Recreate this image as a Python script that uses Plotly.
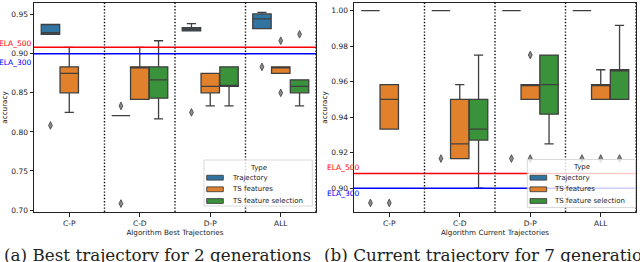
import plotly.graph_objects as go

# ---------------- data ----------------
categories = ["C-P", "C-D", "D-P", "ALL"]
hue_names = ["Trajectory", "TS features", "TS feature selection"]
hue_colors = ["#3274a1", "#e1812c", "#3a923a"]

ela_500 = 0.9083
ela_300 = 0.90

# (a) Best trajectory, 2 generations
best_traj_q1 = [0.925, 0.8208, 0.9292, 0.9323]
best_traj_med = [0.9271, 0.8208, 0.9313, 0.9448]
best_traj_q3 = [0.9375, 0.8208, 0.9333, 0.9510]
best_traj_lo = [0.925, 0.8208, 0.9292, 0.9323]
best_traj_hi = [0.9375, 0.8208, 0.9385, 0.9531]
best_traj_out = [[0.8083], [0.8333, 0.7083], [0.825], [0.8833]]

best_feat_q1 = [0.85, 0.8417, 0.85, 0.875]
best_feat_med = [0.875, 0.8833, 0.8583, 0.8833]
best_feat_q3 = [0.8833, 0.8833, 0.875, 0.8833]
best_feat_lo = [0.825, 0.8417, 0.8333, 0.875]
best_feat_hi = [0.9083, 0.9083, 0.875, 0.8833]
best_feat_out = [[], [], [], [0.9167, 0.85]]

best_sel_q1 = [None, 0.8432, 0.8583, 0.85]
best_sel_med = [None, 0.8667, 0.8583, 0.8583]
best_sel_q3 = [None, 0.8833, 0.8833, 0.8667]
best_sel_lo = [None, 0.8167, 0.8333, 0.8333]
best_sel_hi = [None, 0.9167, 0.8833, 0.8667]
best_sel_out = [[], [], [], [0.925]]

# (b) Current trajectory, 7 generations
cur_traj_q1 = [1.0, 1.0, 1.0, 1.0]
cur_traj_med = [1.0, 1.0, 1.0, 1.0]
cur_traj_q3 = [1.0, 1.0, 1.0, 1.0]
cur_traj_lo = [1.0, 1.0, 1.0, 1.0]
cur_traj_hi = [1.0, 1.0, 1.0, 1.0]
cur_traj_out = [[0.8917], [0.9167], [0.9167], [0.9167]]

cur_feat_q1 = [0.9333, 0.9167, 0.95, 0.95]
cur_feat_med = [0.95, 0.925, 0.9583, 0.9583]
cur_feat_q3 = [0.9583, 0.95, 0.9583, 0.9583]
cur_feat_lo = [0.9333, 0.9167, 0.95, 0.95]
cur_feat_hi = [0.9583, 0.9583, 0.9583, 0.9667]
cur_feat_out = [[0.8917], [], [0.975, 0.9167], [0.9167]]

cur_sel_q1 = [None, 0.9271, 0.9417, 0.95]
cur_sel_med = [None, 0.9333, 0.9583, 0.9667]
cur_sel_q3 = [None, 0.95, 0.975, 0.9667]
cur_sel_lo = [None, 0.90, 0.925, 0.95]
cur_sel_hi = [None, 0.975, 0.975, 0.9917]
cur_sel_out = [[], [], [], [0.9167]]

panels = [
    dict(
        xaxis="x", yaxis="y",
        title="Algorithm Best Trajectories",
        caption="(a) Best trajectory for 2 generations",
        stats=[
            (best_traj_q1, best_traj_med, best_traj_q3, best_traj_lo, best_traj_hi, best_traj_out),
            (best_feat_q1, best_feat_med, best_feat_q3, best_feat_lo, best_feat_hi, best_feat_out),
            (best_sel_q1, best_sel_med, best_sel_q3, best_sel_lo, best_sel_hi, best_sel_out),
        ],
    ),
    dict(
        xaxis="x2", yaxis="y2",
        title="Algorithm Current Trajectories",
        caption="(b) Current trajectory for 7 generations",
        stats=[
            (cur_traj_q1, cur_traj_med, cur_traj_q3, cur_traj_lo, cur_traj_hi, cur_traj_out),
            (cur_feat_q1, cur_feat_med, cur_feat_q3, cur_feat_lo, cur_feat_hi, cur_feat_out),
            (cur_sel_q1, cur_sel_med, cur_sel_q3, cur_sel_lo, cur_sel_hi, cur_sel_out),
        ],
    ),
]

# ---------------- layout geometry ----------------
W, H = 640, 262
ML, MR, MT, MB = 34, 4, 3, 50
PW, PH = W - ML - MR, H - MT - MB
EDGE = "#3f3f3f"
GROUP_W = 0.8
SLOT = GROUP_W / len(hue_names)
BOX_W = SLOT * 0.98
SANS = "DejaVu Sans"
INK = "#222222"


def px_x(px):
    return (px - ML) / PW


def px_y(py):
    return (MT + PH - py) / PH


fig = go.Figure()

for p in panels:
    for h, (q1, med, q3, lo, hi, outs) in enumerate(p["stats"]):
        off = (h - (len(hue_names) - 1) / 2) * SLOT
        idx = [i for i in range(len(categories)) if q1[i] is not None]
        fig.add_trace(go.Box(
            x=[i + off for i in idx],
            q1=[q1[i] for i in idx], median=[med[i] for i in idx], q3=[q3[i] for i in idx],
            lowerfence=[lo[i] for i in idx], upperfence=[hi[i] for i in idx],
            width=BOX_W, whiskerwidth=0.5, boxpoints=False,
            fillcolor=hue_colors[h], line=dict(color=EDGE, width=1.3),
            name=hue_names[h], showlegend=False,
            xaxis=p["xaxis"], yaxis=p["yaxis"], hoverinfo="skip",
        ))
        ox, oy = [], []
        for i in range(len(categories)):
            for v in outs[i]:
                ox.append(i + off)
                oy.append(v)
        if ox:
            fig.add_trace(go.Scatter(
                x=ox, y=oy, mode="markers",
                marker=dict(symbol="diamond-tall", size=5.5, color="#8a8a8a",
                            line=dict(color=EDGE, width=0.8)),
                showlegend=False, xaxis=p["xaxis"], yaxis=p["yaxis"], hoverinfo="skip",
            ))

axis_common = dict(
    showgrid=False, zeroline=False, showline=True, mirror=True, automargin=False,
    linecolor=INK, linewidth=1, ticks="outside", ticklen=3.5,
    tickwidth=0.8, tickcolor=INK,
    tickfont=dict(family=SANS, size=7.5, color=INK),
)
title_font = dict(family=SANS, size=7.2, color=INK)

d1 = [0, 282 / PW]
d2 = [320 / PW, 1]

fig.update_layout(
    width=W, height=H, margin=dict(l=ML, r=MR, t=MT, b=MB, autoexpand=False),
    paper_bgcolor="white", plot_bgcolor="white", boxmode="overlay",
    xaxis=dict(axis_common, domain=d1, range=[-0.5, 3.5], tickvals=list(range(4)),
               ticktext=categories, anchor="y",
               title=dict(text=panels[0]["title"], font=title_font, standoff=3)),
    yaxis=dict(axis_common, domain=[0, 1], range=[0.6975, 0.965], tickvals=[0.70, 0.75, 0.80, 0.85, 0.90, 0.95],
               tickformat=".2f", anchor="x",
               title=dict(text="accuracy", font=title_font, standoff=2)),
    xaxis2=dict(axis_common, domain=d2, range=[-0.5, 3.5], tickvals=list(range(4)),
                ticktext=categories, anchor="y2",
                title=dict(text=panels[1]["title"], font=title_font, standoff=3)),
    yaxis2=dict(axis_common, domain=[0, 1], range=[0.8866, 1.0043],
                tickvals=[0.90, 0.92, 0.94, 0.96, 0.98, 1.00], tickformat=".2f", anchor="x2",
                title=dict(text="accuracy", font=title_font, standoff=2)),
)

shapes = []
annotations = []
for p in panels:
    xr, yr = p["xaxis"], p["yaxis"]
    # threshold lines
    shapes.append(dict(type="line", xref=f"{xr} domain", yref=yr, x0=0, x1=1, y0=ela_500, y1=ela_500,
                       line=dict(color="red", width=1.6), layer="above"))
    shapes.append(dict(type="line", xref=f"{xr} domain", yref=yr, x0=0, x1=1, y0=ela_300, y1=ela_300,
                       line=dict(color="blue", width=1.6), layer="above"))
    # category separators
    for s in [0.5, 1.5, 2.5, 3.5]:
        shapes.append(dict(type="line", xref=xr, yref=f"{yr} domain", x0=s, x1=s, y0=0, y1=1,
                           line=dict(color="#111111", width=1.4, dash="1.4px,1.8px"), layer="above"))

# threshold labels (pixel placement)
ela_labels = [
    ("ELA_500", "red", 33, 43.3), ("ELA_300", "blue", 33, 62.7),
    ("ELA_500", "red", 361, 167.7), ("ELA_300", "blue", 361, 193.7),
]
for txt, col, xr_px, yc in ela_labels:
    annotations.append(dict(text=txt, xref="paper", yref="paper", x=px_x(xr_px), y=px_y(yc),
                            xanchor="right", yanchor="middle", showarrow=False, borderpad=0,
                            font=dict(family=SANS, size=7.5, color=col)))

# custom legends (matplotlib style)
legends = [
    dict(frame=(204, 312.3, 160, 206), title=(258.3, 167.7), sw=(206.7, 223.3), tx=230.7),
    dict(frame=(527.3, 635.5, 159.5, 207.5), title=(581.7, 166.5), sw=(530, 546.7), tx=552.7),
]
rows = [177.7, 189.3, 201.0]
for lg in legends:
    fx0, fx1, fy0, fy1 = lg["frame"]
    shapes.append(dict(type="rect", xref="paper", yref="paper", x0=px_x(fx0), x1=px_x(fx1),
                       y0=px_y(fy1), y1=px_y(fy0), fillcolor="rgba(255,255,255,0.8)",
                       line=dict(color="#d0d0d0", width=0.8), layer="above"))
    annotations.append(dict(text="Type", xref="paper", yref="paper", x=px_x(lg["title"][0]),
                            y=px_y(lg["title"][1]), xanchor="center", yanchor="middle",
                            showarrow=False, borderpad=0, font=dict(family=SANS, size=7, color=INK)))
    for h, ry in enumerate(rows):
        shapes.append(dict(type="rect", xref="paper", yref="paper", x0=px_x(lg["sw"][0]), x1=px_x(lg["sw"][1]),
                           y0=px_y(ry + 2.4), y1=px_y(ry - 2.4), fillcolor=hue_colors[h],
                           line=dict(color=EDGE, width=0.9), layer="above"))
        annotations.append(dict(text=hue_names[h], xref="paper", yref="paper", x=px_x(lg["tx"]),
                                y=px_y(ry), xanchor="left", yanchor="middle", showarrow=False, borderpad=0,
                                font=dict(family=SANS, size=7, color=INK)))

# captions
for p, cx in zip(panels, [3.3, 323]):
    annotations.append(dict(text=p["caption"], xref="paper", yref="paper", x=px_x(cx), y=px_y(254.5),
                            xanchor="left", yanchor="middle", showarrow=False, borderpad=0,
                            font=dict(family="DejaVu Serif", size=16.8, color=INK)))

fig.update_layout(shapes=shapes, annotations=annotations)
fig.write_html("out.html", config={"displayModeBar": False},
               post_script="document.body.style.margin='0px';document.body.style.padding='0px';")
